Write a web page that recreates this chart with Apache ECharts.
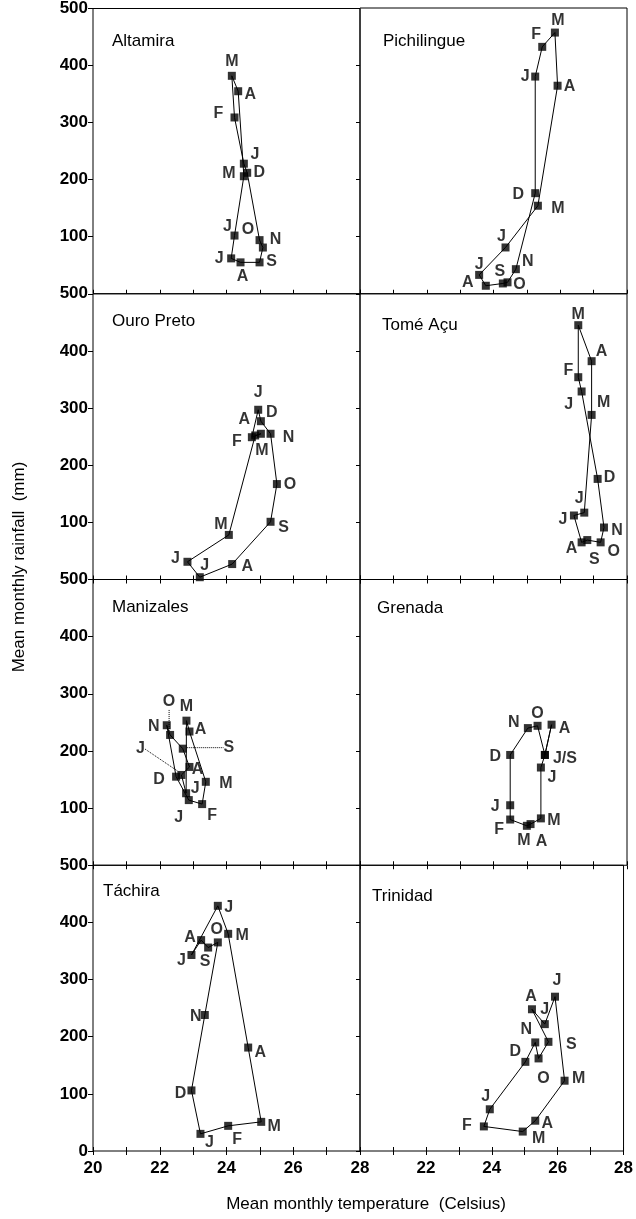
<!DOCTYPE html>
<html><head><meta charset="utf-8">
<script src="https://cdn.jsdelivr.net/npm/echarts/dist/echarts.min.js"></script>
<style>html,body{margin:0;padding:0;background:#fff}#c{width:636px;height:1219px}</style>
</head><body><div id="c"></div>
<script>
// ---- data ----
const stations = ['Altamira', 'Pichilingue', 'Ouro Preto', 'Tomé Açu', 'Manizales', 'Grenada', 'Táchira', 'Trinidad'];
const monthLabels = ['J','F','M','A','M','J','J','A','S','O','N','D'];
const grenadaLabels = ['J','F','M','A','M','J','J/S','A','','O','N','D'];

const altamiraTemp = [24.52, 24.24, 24.16, 24.35, 24.52, 24.24, 24.14, 24.42, 24.99, 25.09, 24.99, 24.62];
const altamiraRain = [228, 309, 382, 355, 206, 102, 62, 55, 55, 81, 94, 212];
const pichilingueTemp = [25.25, 25.46, 25.84, 25.92, 25.33, 24.36, 23.57, 23.77, 24.28, 24.42, 24.67, 25.25];
const pichilingueRain = [380, 432, 457, 364, 154, 81, 33, 14, 18, 20, 43, 176];
const ouroPretoTemp = [24.95, 24.76, 25.03, 24.86, 24.07, 22.83, 23.20, 24.17, 25.32, 25.51, 25.32, 25.03];
const ouroPretoRain = [297, 249, 255, 252, 78, 31, 4, 27, 101, 167, 255, 277];
const tomeAcuTemp = [26.64, 26.54, 26.54, 26.94, 26.94, 26.72, 26.41, 26.64, 26.81, 27.21, 27.31, 27.12];
const tomeAcuRain = [329, 354, 445, 382, 288, 117, 112, 65, 69, 65, 91, 176];
const manizalesTemp = [22.87, 23.27, 23.38, 22.89, 22.80, 22.79, 22.65, 22.89, 22.69, 22.31, 22.21, 22.49];
const manizalesRain = [114, 107, 146, 234, 253, 126, 158, 172, 204, 228, 245, 155];
const grenadaTemp = [24.50, 24.50, 25.00, 25.11, 25.42, 25.42, 25.54, 25.74, 25.54, 25.32, 25.03, 24.50];
const grenadaRain = [105, 80, 69, 72, 82, 171, 193, 246, 193, 244, 240, 193];
const tachiraTemp = [23.22, 24.05, 25.04, 24.65, 24.05, 23.74, 22.95, 23.24, 23.45, 23.74, 23.35, 22.95];
const tachiraRain = [30, 44, 51, 181, 380, 429, 343, 369, 356, 365, 238, 106];
const trinidadTemp = [23.94, 23.76, 24.94, 25.32, 26.21, 25.92, 25.61, 25.22, 25.72, 25.42, 25.32, 25.02];
const trinidadRain = [73, 43, 34, 53, 123, 270, 222, 248, 191, 162, 190, 156];

const xTickLabels = ['20', '22', '24', '26', '28'];
const yTickLabels = ['0', '100', '200', '300', '400', '500'];

// ---- label placement (style, px offsets from point) ----
const labelOffsets = [
  [[11,-9],[-16,-4],[0,-14],[12,3],[-15,-3],[-7,-9],[-12,0],[2,14],[12,-1],[-15,-18],[16,-1],[12,0]],
  [[-10,0],[-6,-12],[3,-12],[12,1],[20,3],[-4,-11],[0,-10],[-18,-3],[-3,-12],[12,2],[12,-8],[-17,1]],
  [[0,-17],[-15,4],[1,17],[-11,-16],[-8,-10],[-12,-3],[5,-12],[15,3],[13,6],[13,1],[18,4],[11,-9]],
  [[-13,13],[-10,-7],[0,-11],[10,-10],[12,-12],[-5,-14],[-11,4],[-10,6],[7,20],[13,9],[13,3],[12,-1]],
  [[-10,17],[10,11],[20,2],[11,-2],[0,-14],[9,-5],[-41,-26],[8,3],[46,-1],[-1,-33],[-13,1],[-17,3]],
  [[-15,1],[-11,10],[-3,15],[11,17],[13,2],[11,10],[20,4],[13,4],[0,0],[0,-12],[-14,-5],[-15,2]],
  [[9,9],[9,14],[13,5],[12,5],[14,2],[11,2],[-10,6],[-11,-3],[-3,14],[-1,-13],[-9,2],[-11,3]],
  [[-4,-13],[-17,-1],[16,7],[12,3],[14,-2],[2,-16],[0,-15],[-1,-13],[23,3],[5,20],[-9,-13],[-10,-10]]
];
const leaderLines = [[], [], [], [], [6, 8, 9], [], [], []];
const titlePos = [[112,43],[383,43],[112,323],[382,327],[112,609],[377,610],[103,893],[372,898]];

const temps = [altamiraTemp, pichilingueTemp, ouroPretoTemp, tomeAcuTemp, manizalesTemp, grenadaTemp, tachiraTemp, trinidadTemp];
const rains = [altamiraRain, pichilingueRain, ouroPretoRain, tomeAcuRain, manizalesRain, grenadaRain, tachiraRain, trinidadRain];
const labels = [monthLabels, monthLabels, monthLabels, monthLabels, monthLabels, grenadaLabels, monthLabels, monthLabels];

const FONT = '"Liberation Sans", Arial, Helvetica, sans-serif';
const colLeft = [93, 360], colWidth = [267, 267];
const top0 = 8, rowH = 285.75;

const grid = [], xAxis = [], yAxis = [], series = [], graphic = [];
for (let i = 0; i < 8; i++) {
  const col = i % 2, row = Math.floor(i / 2);
  grid.push({left: colLeft[col], top: top0 + row * rowH, width: colWidth[col], height: rowH,
    show: true, borderColor: '#000', borderWidth: 1, backgroundColor: 'transparent'});
  const tickStyle = {color: '#000', width: 1};
  xAxis.push({gridIndex: i, type: 'value', min: 20, max: 28, interval: 1, position: 'bottom',
    axisLine: {show: false}, splitLine: {show: false},
    axisTick: {show: true, inside: true, length: 4, lineStyle: tickStyle},
    axisLabel: {show: row === 3, margin: 9, color: '#000', fontSize: 17, fontFamily: FONT, fontWeight: 'bold',
      showMinLabel: true, showMaxLabel: true,
      formatter: v => {
        if (col === 1 && v === 20) return '';
        const k = (v - 20) / 2;
        return Number.isInteger(k) ? xTickLabels[k] : '';
      }}});
  xAxis.push({gridIndex: i, type: 'value', min: 20, max: 28, interval: 1, position: 'top',
    axisLine: {show: false}, splitLine: {show: false},
    axisTick: {show: row > 0, inside: true, length: 4, lineStyle: tickStyle},
    axisLabel: {show: false}});
  yAxis.push({gridIndex: i, type: 'value', min: 0, max: 500, interval: 100, position: 'left',
    axisLine: {show: false}, splitLine: {show: false},
    axisTick: {show: col === 0, inside: false, length: 5, lineStyle: tickStyle},
    axisLabel: {show: col === 0, margin: 5, color: '#000', fontSize: 17, fontFamily: FONT, fontWeight: 'bold',
      showMinLabel: true, showMaxLabel: true,
      formatter: v => (row < 3 && v === 0) ? '' : yTickLabels[v / 100]}});
  yAxis.push({gridIndex: i, type: 'value', min: 0, max: 500, interval: 100, position: 'right',
    axisLine: {show: false}, splitLine: {show: false},
    axisTick: {show: col === 0, inside: true, length: 4, lineStyle: tickStyle},
    axisLabel: {show: false}});

  const T = temps[i], R = rains[i], L = labels[i];
  const loop = T.map((t, k) => [t, R[k]]);
  loop.push([T[0], R[0]]);
  series.push({type: 'line', xAxisIndex: 2 * i, yAxisIndex: 2 * i, data: loop, symbol: 'none',
    lineStyle: {color: '#000', width: 1}, silent: true, animation: false, z: 2});
  const offs = labelOffsets[i];
  series.push({type: 'scatter', xAxisIndex: 2 * i, yAxisIndex: 2 * i, symbol: 'rect', symbolSize: 8,
    itemStyle: {color: '#000'}, animation: false, z: 3,
    data: T.map((t, k) => ({value: [t, R[k]], name: L[k],
      labelLine: {show: leaderLines[i].includes(k)}})),
    label: {show: true, position: 'inside', formatter: '{b}', color: '#000', fontSize: 16,
      fontFamily: FONT, fontWeight: 'bold'},
    labelLine: {show: false, lineStyle: {color: '#000', width: 1, type: 'dotted'}},
    labelLayout: p => ({dx: offs[p.dataIndex][0], dy: offs[p.dataIndex][1]})
  });
  graphic.push({type: 'text', left: titlePos[i][0], top: titlePos[i][1] - 10,
    style: {text: stations[i], font: '17px ' + FONT, fill: '#000'}});
}
graphic.push({type: 'text', x: 366, y: 1204,
  style: {text: 'Mean monthly temperature  (Celsius)', font: '17px ' + FONT, fill: '#000',
    textAlign: 'center', textVerticalAlign: 'middle'}});
graphic.push({type: 'text', x: 19, y: 567, rotation: Math.PI / 2,
  style: {text: 'Mean monthly rainfall  (mm)', font: '17px ' + FONT, fill: '#000',
    textAlign: 'center', textVerticalAlign: 'middle'}});

const chart = echarts.init(document.getElementById('c'), null, {renderer: 'canvas'});
chart.setOption({animation: false, backgroundColor: '#fff', grid, xAxis, yAxis, series, graphic});
</script></body></html>
